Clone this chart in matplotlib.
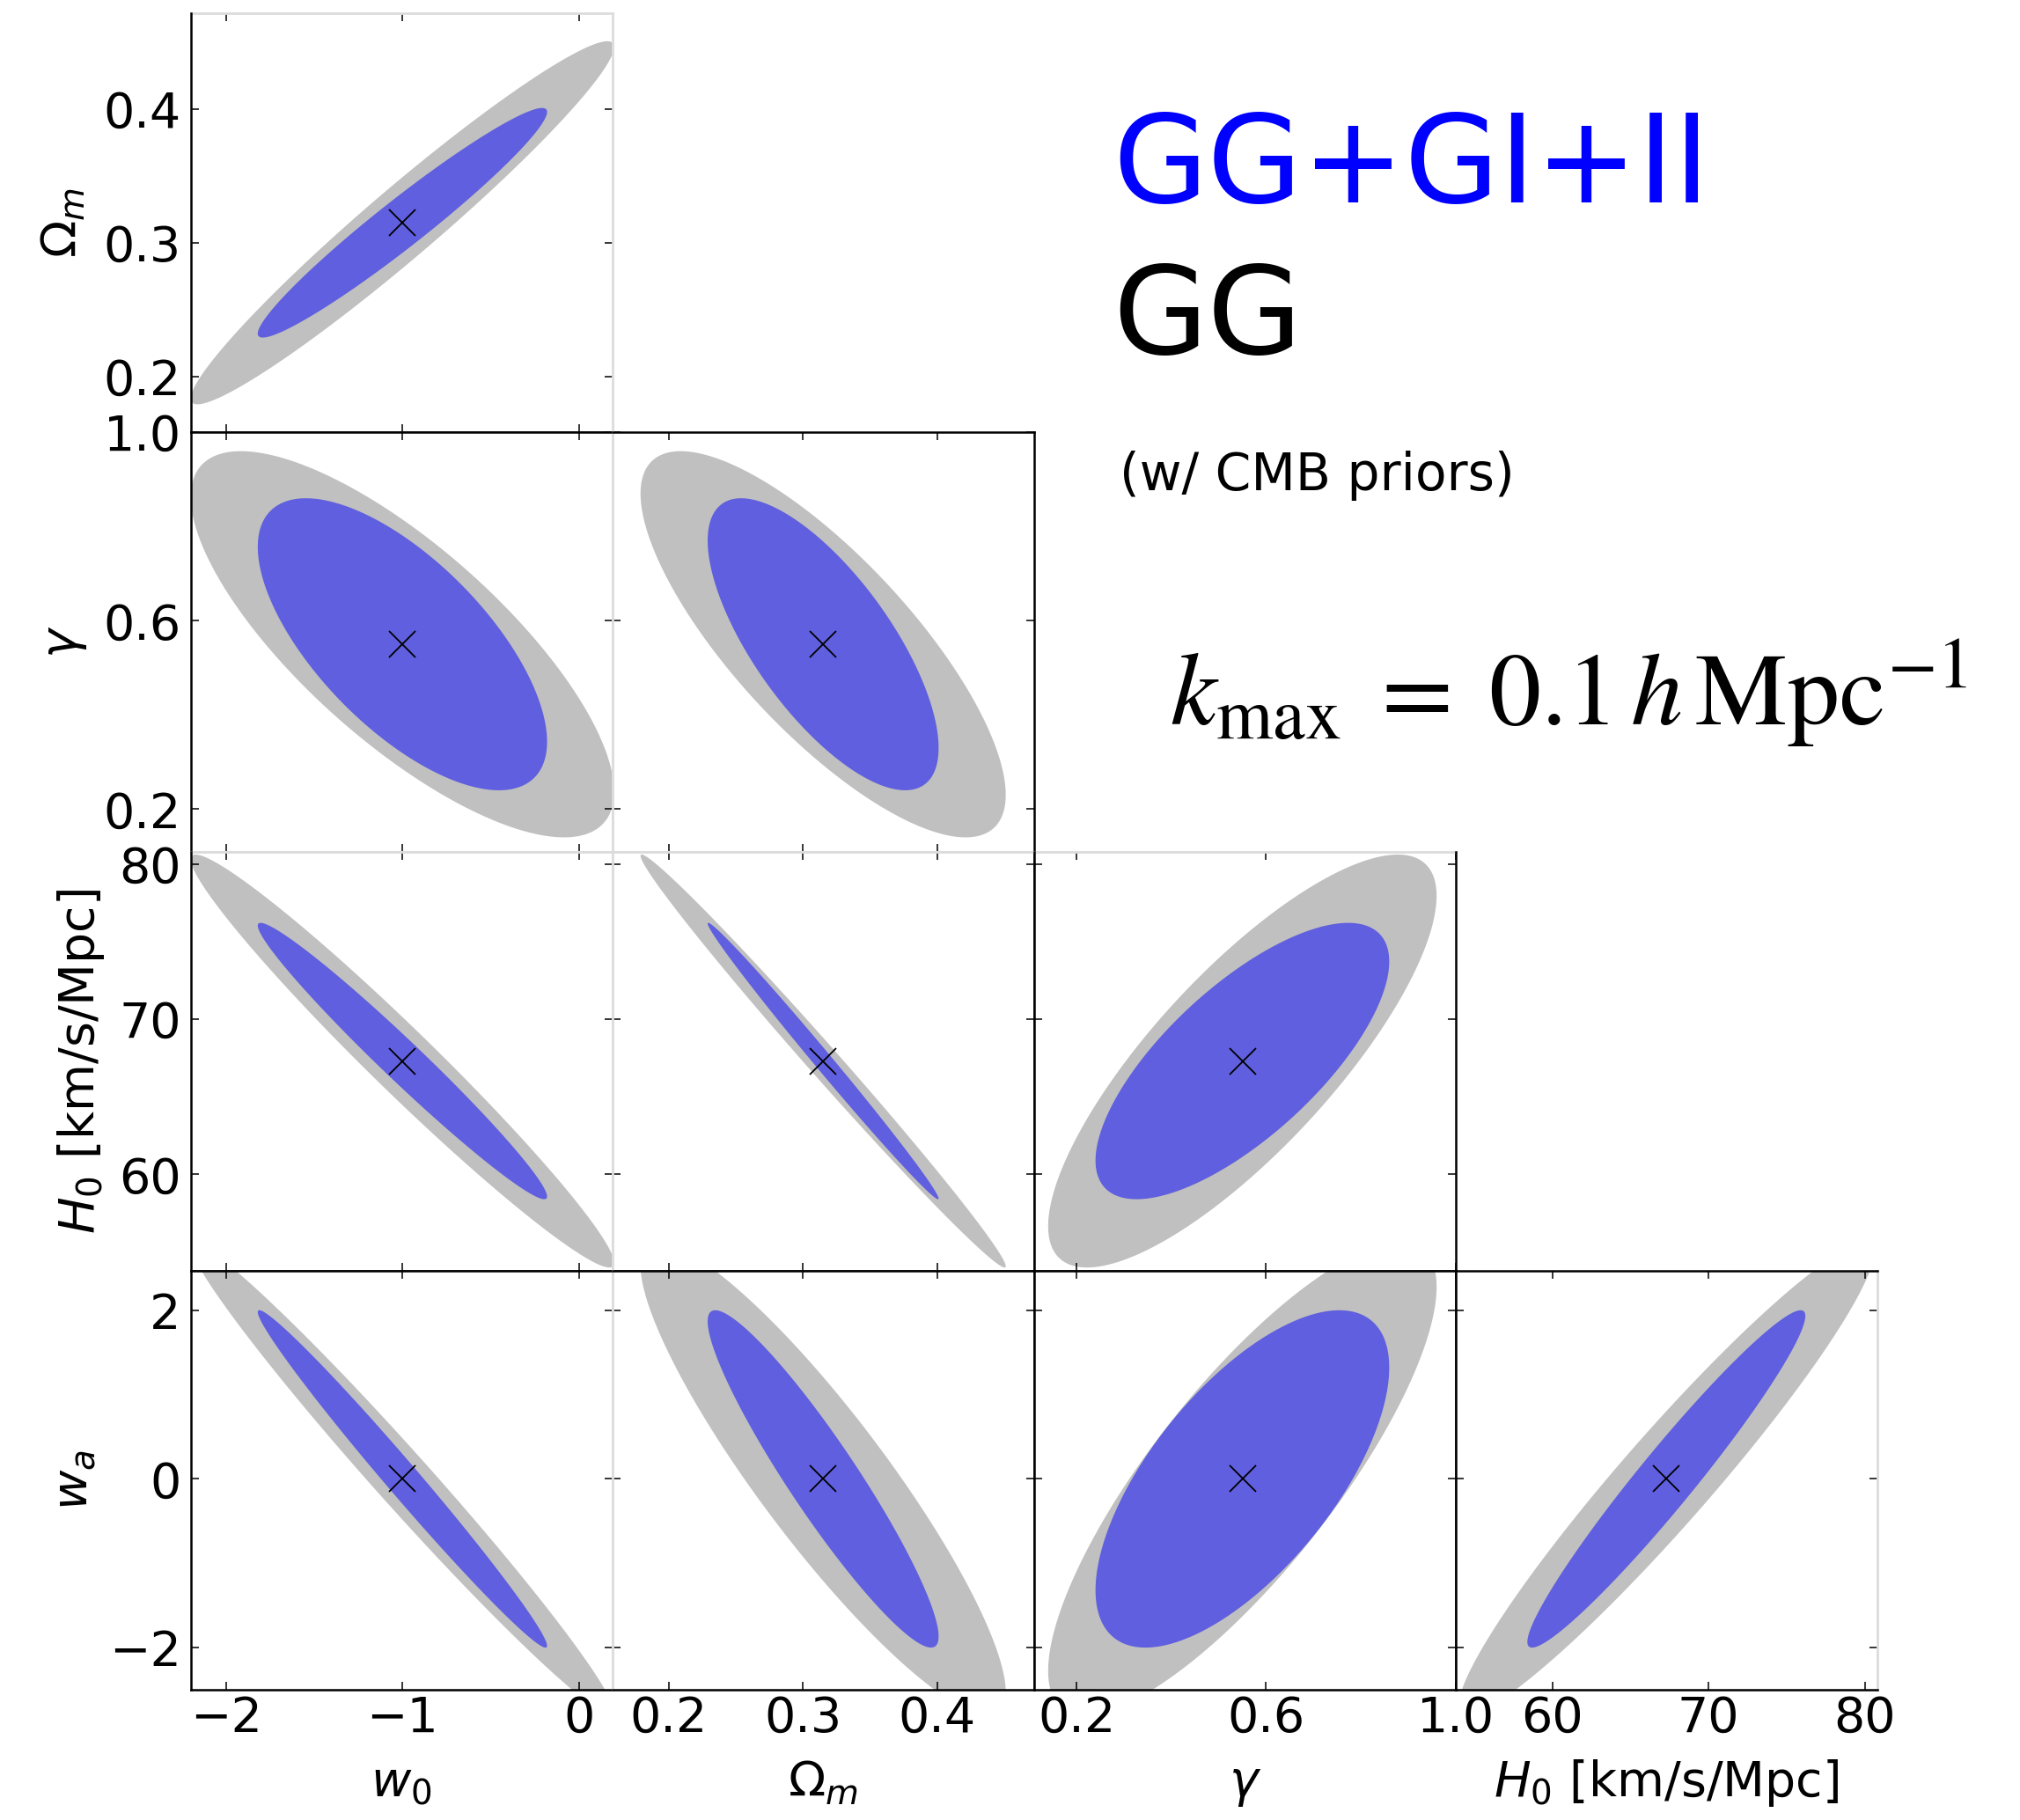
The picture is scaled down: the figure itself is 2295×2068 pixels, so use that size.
import numpy as np
import matplotlib
matplotlib.use('Agg')
import matplotlib.pyplot as plt

# parameters: w0, Omega_m, gamma, H0, wa
labels = [r'$w_0$', r'$\Omega_m$', r'$\gamma$', r'$H_0$ [km/s/Mpc]', r'$w_a$']
fiducial = [-1.0, 0.315, 0.55, 67.3, 0.0]
half_blue = [0.82, 0.086, 0.31, 8.9, 2.0]     # GG+GI+II contour half extents
half_gray = [1.2, 0.136, 0.41, 13.3, 2.8]     # GG contour half extents
# correlations, lower triangle (row param vs column param)
rho_blue = [[], [0.965], [-0.667, -0.71], [-0.98, -0.995, 0.72], [-0.989, -0.934, 0.66, 0.966]]
rho_gray = [[], [0.968], [-0.763, -0.78], [-0.977, -0.9936, 0.80], [-0.985, -0.902, 0.813, 0.958]]
limits = [(-2.2, 0.19), (0.158, 0.472), (0.11, 1.0), (53.8, 80.8), (-2.5, 2.47)]
ticks = [[-2, -1, 0], [0.2, 0.3, 0.4], [0.2, 0.6, 1.0], [60, 70, 80], [-2, 0, 2]]

BLUE = '#5f5fdf'
GRAY = '#c0c0c0'
EDGE = '#dcdcdc'


def ellipse(ax, cx, cy, sx, sy, rho, color):
    t = np.linspace(0, 2 * np.pi, 500)
    x = cx + sx * np.cos(t)
    y = cy + sy * (rho * np.cos(t) + np.sqrt(1 - rho ** 2) * np.sin(t))
    ax.fill(x, y, color=color, lw=0)


W, H = 2295, 2068
fig = plt.figure(figsize=(W / 100, H / 100), dpi=100)
left0 = 216.7 / W
pw = 479 / W
top0 = 15 / H
ph = 476.25 / H

axes = {}
for r in range(4):
    yi = r + 1
    for c in range(r + 1):
        xi = c
        ax = fig.add_axes([left0 + c * pw, 1 - top0 - (r + 1) * ph, pw, ph])
        axes[(r, c)] = ax
        ellipse(ax, fiducial[xi], fiducial[yi], half_gray[xi], half_gray[yi], rho_gray[yi][xi], GRAY)
        ellipse(ax, fiducial[xi], fiducial[yi], half_blue[xi], half_blue[yi], rho_blue[yi][xi], BLUE)
        ax.plot(fiducial[xi], fiducial[yi], 'x', color='black', ms=22, mew=1.3)
        ax.set_xlim(limits[xi])
        ax.set_ylim(limits[yi])
        ax.set_xticks(ticks[xi])
        ax.set_yticks(ticks[yi])
        ax.tick_params(direction='in', top=True, right=True, length=6.5, width=1.1,
                       labelsize=40, labelleft=(c == 0), labelbottom=(r == 3))
        ax.tick_params(axis='y', pad=8)
        ax.tick_params(axis='x', pad=4)
        for s in ax.spines.values():
            s.set_color(EDGE)
            s.set_linewidth(2)
        if c == 0:
            ax.set_ylabel(labels[yi], fontsize=40, va='baseline')
            lx = {0: -0.271, 1: -0.271, 2: -0.228, 3: -0.246}[r]
            ax.yaxis.set_label_coords(lx, 0.5)
        if r == 3:
            ax.set_xlabel(labels[xi], fontsize=40, va='baseline')
            ax.xaxis.set_label_coords(0.5, -0.254)

# black frame lines where the original panels show them
black = [((0, 0), 'left'), ((1, 0), 'left'), ((2, 0), 'left'), ((3, 0), 'left'),
         ((0, 0), 'bottom'), ((1, 0), 'top'), ((1, 1), 'top'), ((1, 1), 'right'),
         ((2, 1), 'right'), ((2, 2), 'left'), ((2, 2), 'right'),
         ((2, 0), 'bottom'), ((2, 1), 'bottom'), ((2, 2), 'bottom'),
         ((3, 0), 'top'), ((3, 1), 'top'), ((3, 2), 'top'), ((3, 3), 'top'),
         ((3, 1), 'right'), ((3, 2), 'left'), ((3, 2), 'right'), ((3, 3), 'left'),
         ((3, 0), 'bottom'), ((3, 1), 'bottom'), ((3, 2), 'bottom'), ((3, 3), 'bottom')]
for key, side in black:
    sp = axes[key].spines[side]
    sp.set_color('black')
    sp.set_linewidth(1.8)
    sp.set_zorder(5)

fig.text(1264 / W, 1 - 230 / H, 'GG+GI+II', color='#0000ff', fontsize=100, va='baseline')
fig.text(1264 / W, 1 - 402 / H, 'GG', color='black', fontsize=100, va='baseline')
fig.text(1272 / W, 1 - 557 / H, '(w/ CMB priors)', color='black', fontsize=42, va='baseline')
fig.text(1329 / W, 1 - 824 / H, r'$k_{\rm max}\;=\;0.1\,h\,{\rm Mpc}^{-1}$', fontsize=85,
         va='baseline', math_fontfamily='stix')

fig.savefig('out.png', dpi=100)
